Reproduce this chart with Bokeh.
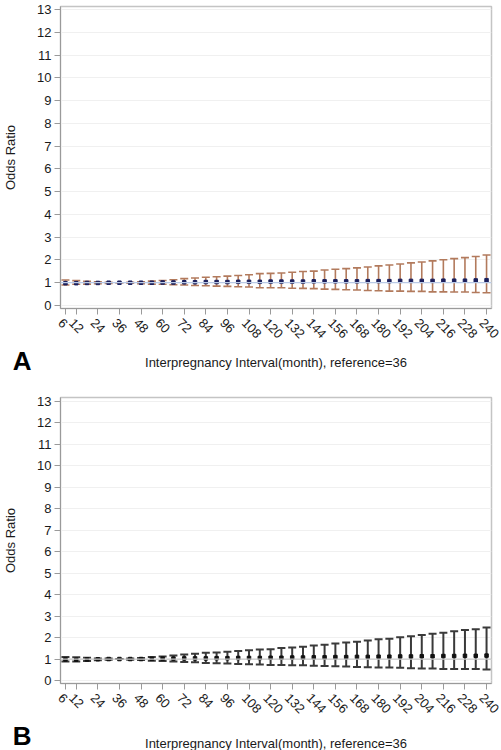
from bokeh.plotting import figure
from bokeh.layouts import column
from bokeh.models import (ColumnDataSource, Whisker, TeeHead, FixedTicker, Span,
                          Range1d, CustomLabelingPolicy, LinearAxis)
from bokeh.core.properties import value
from bokeh.embed import file_html
from bokeh.resources import INLINE

months = [6, 12, 18, 24, 30, 36, 42, 48, 54, 60, 66, 72, 78, 84, 90, 96, 102, 108, 114, 120,
          126, 132, 138, 144, 150, 156, 162, 168, 174, 180, 186, 192, 198, 204, 210, 216, 222, 228, 234, 240]
tick_months = [6, 12, 24, 36, 48, 60, 72, 84, 96, 108, 120, 132, 144, 156, 168, 180, 192, 204, 216, 228, 240]

# Panel A
or_a = [0.98, 0.98, 0.99, 0.99, 1.00, 1.00, 1.00, 1.00, 1.00, 1.01, 1.01, 1.02, 1.02, 1.03, 1.03, 1.03, 1.04, 1.04, 1.04, 1.05,
        1.05, 1.05, 1.05, 1.06, 1.06, 1.06, 1.06, 1.06, 1.07, 1.07, 1.07, 1.08, 1.08, 1.08, 1.08, 1.09, 1.09, 1.09, 1.10, 1.11]
lo_a = [0.90, 0.93, 0.94, 0.96, 0.97, 1.00, 0.98, 0.96, 0.94, 0.93, 0.91, 0.90, 0.88, 0.87, 0.85, 0.84, 0.82, 0.81, 0.78, 0.78,
        0.78, 0.76, 0.75, 0.74, 0.72, 0.71, 0.69, 0.68, 0.66, 0.65, 0.63, 0.63, 0.62, 0.62, 0.60, 0.60, 0.59, 0.59, 0.57, 0.56]
hi_a = [1.12, 1.09, 1.06, 1.04, 1.02, 1.00, 1.02, 1.04, 1.07, 1.10, 1.13, 1.18, 1.21, 1.24, 1.26, 1.29, 1.32, 1.35, 1.40, 1.41,
        1.43, 1.46, 1.49, 1.51, 1.56, 1.59, 1.62, 1.65, 1.69, 1.74, 1.78, 1.82, 1.87, 1.91, 1.96, 2.01, 2.06, 2.10, 2.15, 2.22]

# Panel B
or_b = [0.98, 0.97, 0.98, 0.99, 1.00, 1.00, 1.00, 1.00, 1.01, 1.02, 1.02, 1.03, 1.03, 1.03, 1.04, 1.04, 1.05, 1.05, 1.05, 1.06,
        1.06, 1.07, 1.07, 1.08, 1.08, 1.09, 1.09, 1.10, 1.10, 1.11, 1.11, 1.12, 1.12, 1.13, 1.13, 1.14, 1.14, 1.15, 1.15, 1.16]
lo_b = [0.89, 0.88, 0.91, 0.94, 0.97, 1.00, 0.97, 0.95, 0.92, 0.91, 0.89, 0.86, 0.85, 0.82, 0.80, 0.79, 0.77, 0.76, 0.74, 0.72,
        0.72, 0.71, 0.71, 0.69, 0.68, 0.66, 0.65, 0.63, 0.62, 0.60, 0.60, 0.59, 0.57, 0.56, 0.56, 0.54, 0.54, 0.53, 0.53, 0.51]
hi_b = [1.09, 1.08, 1.06, 1.03, 1.02, 1.00, 1.03, 1.05, 1.09, 1.12, 1.17, 1.21, 1.25, 1.29, 1.31, 1.34, 1.38, 1.41, 1.44, 1.46,
        1.51, 1.54, 1.57, 1.63, 1.67, 1.72, 1.77, 1.80, 1.86, 1.92, 1.95, 2.01, 2.06, 2.12, 2.18, 2.23, 2.29, 2.35, 2.39, 2.47]

x_title = "Interpregnancy Interval(month), reference=36"
y_title = "Odds Ratio"
FONT = "Liberation Sans"
W = 501
LEFT, RIGHT = 56, 10
X0, X1 = 3.25, 242.75
PPM = (W - LEFT - RIGHT) / (X1 - X0)   # pixels per month inside the frame
SHIFT = 4.9 / PPM                      # tick labels sit slightly left so they centre under ticks


def style_axis(ax):
    ax.axis_line_color = "#9a9a9a"
    ax.major_tick_line_color = "#9a9a9a"
    ax.major_tick_out = 6
    ax.major_tick_in = 0
    ax.minor_tick_line_color = None
    ax.major_label_text_font = FONT
    ax.major_label_text_font_size = "13px"
    ax.major_label_text_color = "#1a1a1a"
    ax.axis_label_text_font = FONT
    ax.axis_label_text_font_size = "13px"
    ax.axis_label_text_font_style = "normal"
    ax.axis_label_text_color = "#1a1a1a"


def main_panel(est, lo, hi, bar_color, dot_color, ref_color, height, top, bottom, y0, y1, bar_w):
    p = figure(width=W, height=height, output_backend="svg", toolbar_location=None,
               x_range=Range1d(X0, X1), y_range=Range1d(y0, y1),
               min_border_left=LEFT, min_border_right=RIGHT, min_border_top=top,
               min_border_bottom=bottom)
    p.outline_line_color = "#c4c4c4"
    p.outline_line_width = 1.5
    p.xgrid.grid_line_color = None
    p.ygrid.grid_line_color = "#f0f0f0"
    p.ygrid.ticker = FixedTicker(ticks=list(range(0, 14)))

    src = ColumnDataSource(dict(x=months, est=est, lo=lo, hi=hi))
    p.add_layout(Span(location=1, dimension="width", line_color=ref_color, line_width=1.2))
    w = Whisker(base="x", upper="hi", lower="lo", source=src,
                line_color=bar_color, line_width=bar_w,
                upper_head=TeeHead(size=8, line_color=bar_color, line_width=bar_w),
                lower_head=TeeHead(size=8, line_color=bar_color, line_width=bar_w))
    p.add_layout(w)
    p.scatter("x", "est", source=src, marker="square", size=3.5, color=dot_color)

    xa = p.xaxis[0]
    ya = p.yaxis[0]
    style_axis(xa)
    style_axis(ya)
    xa.ticker = FixedTicker(ticks=tick_months)
    xa.major_label_standoff = 0
    xa.major_label_text_font_size = "1px"
    xa.major_label_policy = CustomLabelingPolicy(code="return []")
    ya.ticker = FixedTicker(ticks=list(range(0, 14)))
    ya.major_label_standoff = 3
    ya.axis_label = y_title
    ya.axis_label_standoff = 16

    # tick-label axis (same ticks, labels only)
    p.extra_x_ranges = {"lab": Range1d(X0 + SHIFT, X1 + SHIFT)}
    la = LinearAxis(x_range_name="lab", ticker=FixedTicker(ticks=tick_months))
    style_axis(la)
    la.axis_line_color = None
    la.major_tick_line_color = None
    la.major_tick_out = 0
    la.major_label_standoff = 2
    la.major_label_orientation = -0.8
    p.add_layout(la, "below")
    return p


def label_strip(letter, height, title_y, letter_y, letter_size):
    s = figure(width=W, height=height, output_backend="svg", toolbar_location=None,
               x_range=Range1d(X0, X1), y_range=Range1d(-height, 0),
               x_axis_location=None, y_axis_location="left",
               min_border_left=LEFT, min_border_right=RIGHT, min_border_top=0, min_border_bottom=0)
    s.outline_line_color = None
    s.grid.grid_line_color = None
    ya = s.yaxis[0]
    ya.ticker = FixedTicker(ticks=[letter_y])
    ya.major_label_overrides = {letter_y: letter}
    ya.axis_line_color = None
    ya.major_tick_line_color = None
    ya.minor_tick_line_color = None
    ya.major_tick_out = 0
    ya.major_tick_in = 0
    ya.major_label_standoff = 29
    ya.major_label_text_font = FONT
    ya.major_label_text_font_size = letter_size
    ya.major_label_text_font_style = "bold"
    ya.major_label_text_color = "black"
    s.text(x=[(X0 + X1) / 2], y=[title_y], text=[x_title], text_align="center",
           text_baseline="middle", text_font=value(FONT), text_font_size=value("13px"),
           text_color="#1a1a1a")
    return s


pa = main_panel(or_a, lo_a, hi_a, "#b27a5c", "#1b1f5c", "#b9c9e6", 345, 6, 37, -0.132, 13.13, 1.6)
sa = label_strip("A", 34, -17, -14.5, "26px")
pb = main_panel(or_b, lo_b, hi_b, "#3a3a3a", "#111111", "#c8c8c8", 341, 18, 37, -0.14, 13.186, 2.0)
sb = label_strip("B", 30, -23, -15, "26px")

layout = column(pa, sa, pb, sb, spacing=0)
open("out.html", "w").write(file_html(layout, INLINE))
